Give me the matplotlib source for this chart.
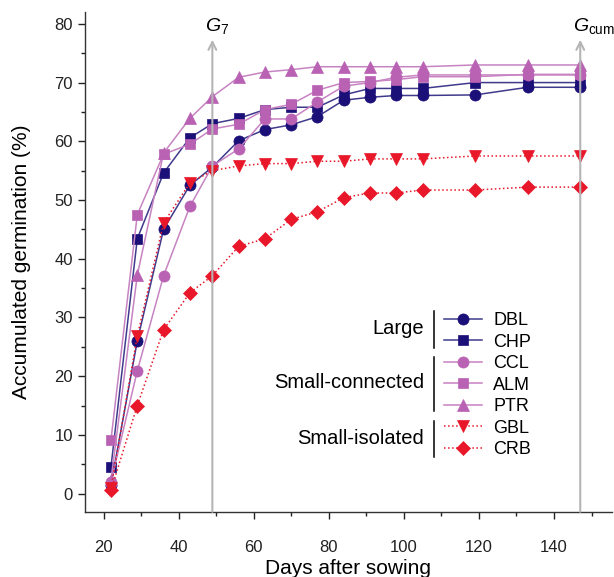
import matplotlib
matplotlib.use("Agg")
import matplotlib.pyplot as plt
from matplotlib.ticker import MultipleLocator

plt.rcParams['font.family'] = ['Liberation Sans', 'DejaVu Sans']
plt.rcParams['mathtext.fontset'] = 'custom'
plt.rcParams['mathtext.rm'] = 'Liberation Sans'
plt.rcParams['mathtext.it'] = 'Liberation Sans:italic'

days = [22, 29, 36, 43, 49, 56, 63, 70, 77, 84, 91, 98, 105, 119, 133, 147]

dbl = [1.5, 26.0, 45.0, 52.5, 55.6, 60.1, 62.0, 62.8, 64.2, 67.0, 67.5, 67.8, 67.8, 67.9, 69.2, 69.2]
chp = [4.6, 43.4, 54.6, 60.6, 63.0, 63.9, 65.4, 65.8, 65.8, 67.9, 69.0, 69.0, 69.0, 70.0, 70.0, 70.0]
ccl = [2.0, 20.9, 37.1, 48.9, 55.8, 58.7, 63.8, 63.8, 66.7, 69.4, 70.0, 70.9, 71.3, 71.3, 71.3, 71.3]
alm = [9.2, 47.5, 57.8, 59.5, 62.1, 62.9, 65.4, 66.3, 68.7, 70.0, 70.2, 70.5, 71.0, 71.0, 71.4, 71.4]
ptr = [2.4, 37.2, 58.0, 63.9, 67.6, 70.9, 71.8, 72.2, 72.7, 72.7, 72.7, 72.7, 72.7, 73.0, 73.0, 73.0]
gbl = [1.0, 26.8, 46.1, 52.9, 55.0, 55.8, 56.2, 56.2, 56.6, 56.6, 57.0, 57.0, 57.0, 57.5, 57.5, 57.5]
crb = [0.6, 15.0, 27.9, 34.2, 37.1, 42.1, 43.4, 46.7, 48.0, 50.4, 51.2, 51.2, 51.7, 51.7, 52.2, 52.2]

g7_day = 49
gcum_day = 147

navy = '#1b0f78'
navy_line = '#3f3a8c'
pink = '#b962b4'
pink_line = '#c783c2'
red = '#e8182a'

series = [
    ('DBL', dbl, navy, navy_line, 'o', '-', 8),
    ('CHP', chp, navy, navy_line, 's', '-', 7.5),
    ('CCL', ccl, pink, pink_line, 'o', '-', 8),
    ('ALM', alm, pink, pink_line, 's', '-', 7.5),
    ('PTR', ptr, pink, pink_line, '^', '-', 8),
    ('GBL', gbl, red, red, 'v', ':', 8),
    ('CRB', crb, red, red, 'D', ':', 7.5),
]

fig = plt.figure(figsize=(6.14, 5.77), dpi=100)
ax = fig.add_axes([0.138, 0.113, 0.859, 0.866])

handles = []
for label, vals, mcol, lcol, mk, ls, ms in series:
    ln, = ax.plot(days, vals, linestyle=ls, color=lcol, linewidth=1.1,
                  marker=mk, markersize=ms, markerfacecolor=mcol,
                  markeredgecolor=mcol, markeredgewidth=0.5, label=label)
    handles.append(ln)

ax.set_xlim(15, 155.5)
ax.set_ylim(-3.1, 82)

# vertical reference arrows at G7 and Gcum
for d, txt in [(g7_day, r'$G_7$'), (gcum_day, r'$G_{\mathrm{cum}}$')]:
    ax.annotate('', xy=(d, 77.3), xytext=(d, -3.1),
                arrowprops=dict(arrowstyle='->', color='#b5b5b5', lw=1.5,
                                shrinkA=0, shrinkB=0, mutation_scale=14))
    ax.annotate(txt, xy=(d, 78.0), xytext=(-5.5, 0), textcoords='offset points',
                ha='left', va='bottom', fontsize=14)

ax.xaxis.set_major_locator(MultipleLocator(20))
ax.xaxis.set_minor_locator(MultipleLocator(10))
ax.yaxis.set_major_locator(MultipleLocator(10))
ax.yaxis.set_minor_locator(MultipleLocator(5))
ax.set_xticks(range(20, 141, 20))
ax.tick_params(which='major', direction='out', length=5, width=1, labelsize=12, colors='#222222')
ax.tick_params(which='minor', direction='out', length=3, width=1, colors='#222222')
ax.tick_params(axis='x', pad=15)

ax.spines['top'].set_visible(False)
ax.spines['right'].set_visible(False)
for s in ['left', 'bottom']:
    ax.spines[s].set_color('#333333')
    ax.spines[s].set_linewidth(1)

ax.set_xlabel('Days after sowing', fontsize=15, labelpad=3)
ax.set_ylabel('Accumulated germination (%)', fontsize=15, labelpad=17)

leg = ax.legend(handles=handles, loc='upper left', bbox_to_anchor=(0.668, 0.414),
                frameon=False, fontsize=13, handlelength=2.1, handletextpad=0.6,
                labelspacing=0.25, borderaxespad=0)

groups = [('Large', 0.366, 0.328, 0.402),
          ('Small-connected', 0.258, 0.202, 0.310),
          ('Small-isolated', 0.146, 0.110, 0.182)]
for name, ymid, y0, y1 in groups:
    ax.text(0.643, ymid, name, transform=ax.transAxes, ha='right', va='center', fontsize=14.5)
    ax.plot([0.662, 0.662], [y0, y1], transform=ax.transAxes, color='black', lw=1.1)

fig.savefig('out.png', dpi=100)
